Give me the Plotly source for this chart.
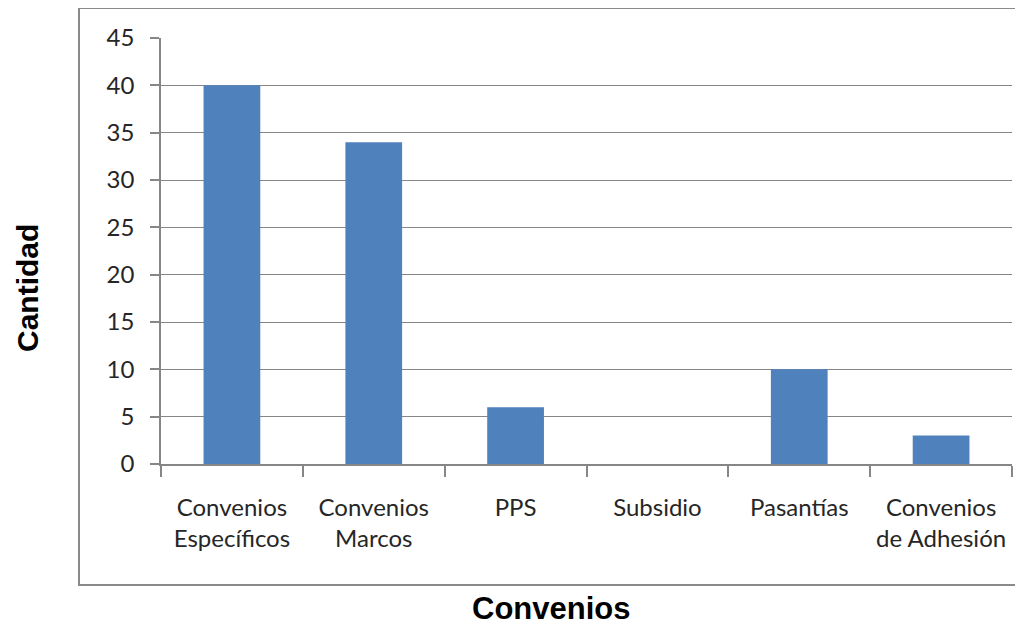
import plotly.graph_objects as go

categories = ["Convenios<br>Específicos", "Convenios<br>Marcos", "PPS", "Subsidio", "Pasantías", "Convenios<br>de Adhesión"]
values = [40, 34, 6, 0, 10, 3]
y_ticks = [0, 5, 10, 15, 20, 25, 30, 35, 40, 45]

# page body has an 8px margin, so the figure is offset by (8, 8)
OFF = 8
W, H = 1023 - OFF, 625 - OFF
L, R, T = 161 - OFF, 11, 38 - OFF
PH = 426
B = H - T - PH
pw = W - L - R


def px(xs):
    return (xs - OFF - L) / pw


def py(ys):
    return 1 - (ys - OFF - T) / PH


fig = go.Figure(go.Bar(x=categories, y=values, marker=dict(color="#4F81BD", line=dict(width=0)), width=0.4))

grey = "#868686"
tick_font = dict(family="Lato", size=24, color="#262626")
fig.update_layout(
    width=W, height=H,
    margin=dict(l=L, r=R, t=T, b=B, pad=0),
    plot_bgcolor="white", paper_bgcolor="white",
    font=dict(family="Lato", size=24, color="#262626"),
    showlegend=False,
    bargap=0.6,
)
fig.update_xaxes(
    showline=True, linecolor=grey, linewidth=1.5,
    ticks="outside", ticklen=11, tickcolor=grey, tickwidth=1.5,
    tickson="boundaries", showgrid=False,
    tickfont=tick_font, ticklabelstandoff=21,
)
fig.update_yaxes(
    range=[0, 45], tickvals=y_ticks, showgrid=True, gridcolor=grey, gridwidth=1.2,
    showline=True, linecolor=grey, linewidth=1.5,
    ticks="outside", ticklen=9, tickcolor=grey, tickwidth=1.5,
    tickfont=tick_font,
    zeroline=False, ticklabelstandoff=11,
)

# outer chart border
fig.add_shape(type="rect", xref="paper", yref="paper", x0=px(79), x1=px(1040), y0=py(585), y1=py(8),
              line=dict(color="#8a8a8a", width=2), fillcolor="rgba(0,0,0,0)", layer="below")

fig.add_annotation(text="<b>Cantidad</b>", xref="paper", yref="paper",
                   x=px(27), y=py(288), textangle=-90, showarrow=False,
                   font=dict(family="Liberation Sans", size=30, color="black"),
                   xanchor="center", yanchor="middle")
fig.add_annotation(text="<b>Convenios</b>", xref="paper", yref="paper",
                   x=px(551), y=py(608), showarrow=False,
                   font=dict(family="Liberation Sans", size=31, color="black"),
                   xanchor="center", yanchor="middle")

fig.write_html("out.html")
